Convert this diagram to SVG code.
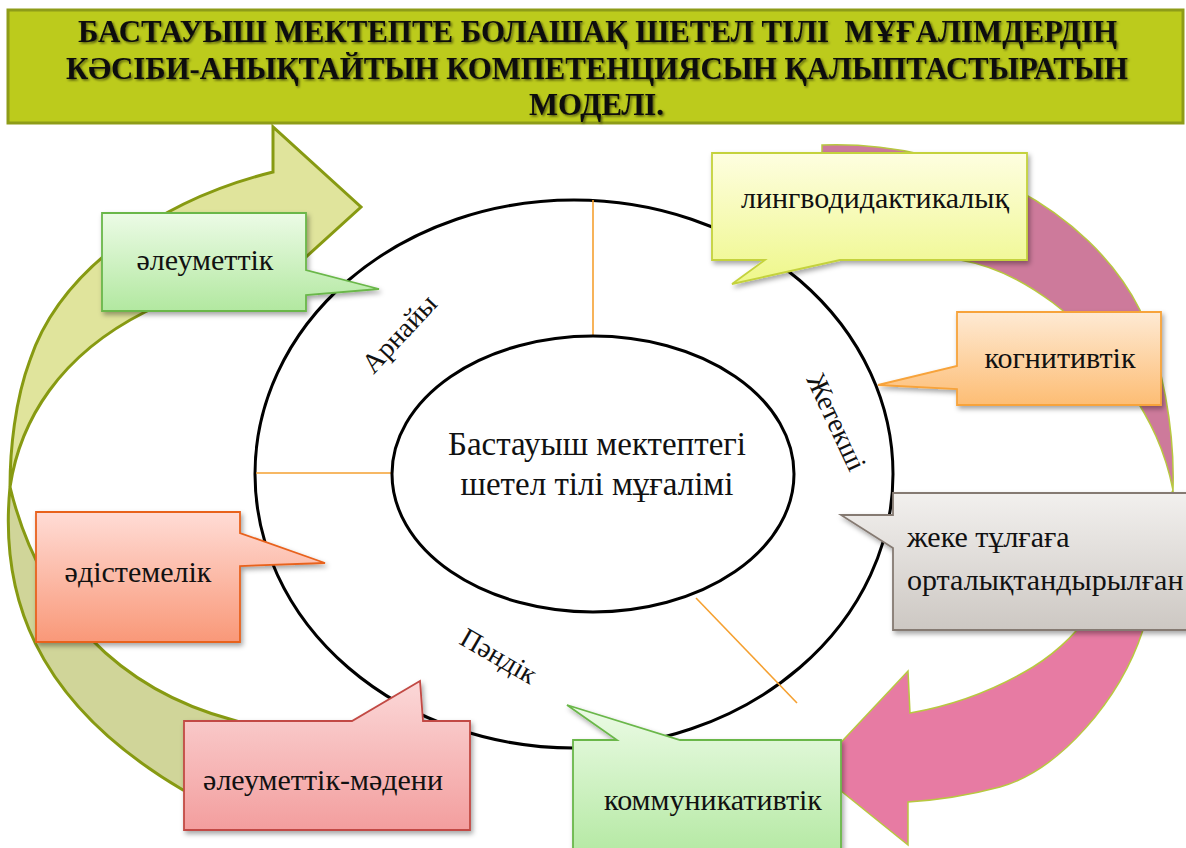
<svg xmlns="http://www.w3.org/2000/svg" width="1186" height="848" viewBox="0 0 1186 848">
<defs>
<style>
.lbl{font-size:30px;fill:#111;}
.ring{font-size:28px;fill:#111;}
.ctr{font-size:33px;fill:#111;}
.ttl{font-size:31px;font-weight:bold;fill:#111;}
.ell{fill:none;stroke:#000;stroke-width:3;}
.con{stroke:#f5a030;stroke-width:1.6;fill:none;}
.box{filter:url(#sh);stroke-width:1.8;}
</style>
<filter id="sh" x="-10%" y="-10%" width="130%" height="140%">
<feDropShadow dx="2" dy="3" stdDeviation="2.5" flood-color="#000" flood-opacity="0.35"/>
</filter>
<filter id="tsh" x="-5%" y="-20%" width="110%" height="150%">
<feDropShadow dx="1.5" dy="1.5" stdDeviation="0.9" flood-color="#000" flood-opacity="0.55"/>
</filter>
<linearGradient id="gGreen" x1="0" y1="0" x2="0" y2="1"><stop offset="0" stop-color="#ecfbe6"/><stop offset="1" stop-color="#b2e8a0"/></linearGradient>
<linearGradient id="gYellow" x1="0" y1="0" x2="0" y2="1"><stop offset="0" stop-color="#fefee0"/><stop offset="1" stop-color="#eef78a"/></linearGradient>
<linearGradient id="gOrange" x1="0" y1="0" x2="0" y2="1"><stop offset="0" stop-color="#feead4"/><stop offset="1" stop-color="#fdbd74"/></linearGradient>
<linearGradient id="gGray" x1="0" y1="0" x2="0" y2="1"><stop offset="0" stop-color="#f2f0ee"/><stop offset="1" stop-color="#cdc8c3"/></linearGradient>
<linearGradient id="gRed" x1="0" y1="0" x2="0" y2="1"><stop offset="0" stop-color="#ffdcd6"/><stop offset="1" stop-color="#f99878"/></linearGradient>
<linearGradient id="gPink" x1="0" y1="0" x2="0" y2="1"><stop offset="0" stop-color="#fbd8d8"/><stop offset="1" stop-color="#f39e9e"/></linearGradient>
</defs>

<g id="arrow-left">
<path d="M10,487 C0,590 30,700 183,790 L260,825 L300,740 L233,720 C120,690 40,610 10,487 Z" fill="#d0d599" stroke="#879a12" stroke-width="3"/>
<path d="M10,487 C10,450 15,400 30,360 C60,270 160,200 273,172 L273,127 L361,207 L273,287 L273,245 C230,260 190,290 145,312 C60,355 20,420 10,487 Z" fill="#e0e49c" stroke="#879a12" stroke-width="3"/>
</g>

<g id="arrow-right">
<path d="M822,145 C960,140 1090,210 1140,310 C1162,360 1175,430 1173,490 C1165,450 1150,420 1130,390 C1090,320 1020,270 960,260 C910,245 860,232 822,228 Z" fill="#cd7a9b" stroke="#b8c840" stroke-width="1.5"/>
<path d="M1173,490 C1176,540 1165,600 1143,630 C1120,700 1060,770 1000,787 C970,795 940,800 908,802 L908,845 L815,770 L908,671 L910,713 C950,706 990,693 1033,667 C1060,650 1080,630 1100,600 C1130,560 1160,520 1173,490 Z" fill="#e77ba3" stroke="#b8c840" stroke-width="1.5"/>
</g>

<g id="outer-ring">
<ellipse class="ell" cx="574" cy="474" rx="319" ry="274"/>
</g>

<g id="connectors">
<line class="con" x1="593" y1="200" x2="593" y2="336"/>
<line class="con" x1="256" y1="473" x2="392" y2="473"/>
<line class="con" x1="696" y1="598" x2="797" y2="703"/>
</g>

<g id="center">
<ellipse class="ell" cx="593" cy="474" rx="201" ry="138"/>
<text class="ctr" font-family="Liberation Serif" x="597" y="455" text-anchor="middle">Бастауыш мектептегі</text>
<text class="ctr" font-family="Liberation Serif" x="597" y="495" text-anchor="middle">шетел тілі мұғалімі</text>
</g>

<g id="ring-labels">
<text class="ring" font-family="Liberation Serif" text-anchor="middle" transform="translate(406,340) rotate(-47)">Арнайы</text>
<text class="ring" font-family="Liberation Serif" text-anchor="middle" transform="translate(828,426) rotate(65)">Жетекші</text>
<text class="ring" font-family="Liberation Serif" text-anchor="middle" transform="translate(494,664) rotate(30)">Пәндік</text>
</g>

<g id="n-aleumettik">
<path class="box" d="M102,213 H306 V270 L379,289 L306,295 V311 H102 Z" fill="url(#gGreen)" stroke="#6ab74a"/>
<text class="lbl" font-family="Liberation Serif" x="205" y="270" text-anchor="middle">әлеуметтік</text>
</g>

<g id="n-lingvo">
<path class="box" d="M712,153 H1027 V260 H840 L732,284 L765,260 H712 Z" fill="url(#gYellow)" stroke="#c4d23c"/>
<text class="lbl" font-family="Liberation Serif" x="875" y="208" text-anchor="middle">лингводидактикалық</text>
</g>

<g id="n-kognitiv">
<path class="box" d="M957,312 H1161 V405 H957 V389 L878,385 L957,366 Z" fill="url(#gOrange)" stroke="#f7a33a"/>
<text class="lbl" font-family="Liberation Serif" x="1060" y="368" text-anchor="middle">когнитивтік</text>
</g>

<g id="n-zheke">
<path class="box" d="M893,493 H1200 V630 H893 V548 L841,515 H893 Z" fill="url(#gGray)" stroke="#857a72"/>
<text class="lbl" font-family="Liberation Serif" x="907" y="547">жеке тұлғаға</text>
<text class="lbl" font-family="Liberation Serif" x="907" y="590">орталықтандырылған</text>
</g>

<g id="n-adistemelik">
<path class="box" d="M36,512 H240 V533 L325,563 L240,566 V642 H36 Z" fill="url(#gRed)" stroke="#e8621e"/>
<text class="lbl" font-family="Liberation Serif" x="138" y="582" text-anchor="middle">әдістемелік</text>
</g>

<g id="n-aleumettik-madeni">
<path class="box" d="M184,721 H352 L420,681 L423,721 H470 V830 H184 Z" fill="url(#gPink)" stroke="#c24a44"/>
<text class="lbl" font-family="Liberation Serif" x="323" y="790" text-anchor="middle">әлеуметтік-мәдени</text>
</g>

<g id="n-kommunikativ">
<path class="box" d="M573,740 H617 L567,705 L680,740 H841 V862 H573 Z" fill="url(#gGreen)" stroke="#6ab74a"/>
<text class="lbl" font-family="Liberation Serif" x="713" y="810" text-anchor="middle">коммуникативтік</text>
</g>

<g id="title">
<rect x="8" y="10" width="1175" height="113" fill="#bccb1c" stroke="#8e9c18" stroke-width="3"/>
<g filter="url(#tsh)">
<text class="ttl" font-family="Liberation Serif" x="78" y="42" textLength="1039" lengthAdjust="spacingAndGlyphs" xml:space="preserve">БАСТАУЫШ МЕКТЕПТЕ БОЛАШАҚ ШЕТЕЛ ТІЛІ  МҰҒАЛІМДЕРДІҢ</text>
<text class="ttl" font-family="Liberation Serif" x="66" y="79" textLength="1062" lengthAdjust="spacingAndGlyphs">КӘСІБИ-АНЫҚТАЙТЫН КОМПЕТЕНЦИЯСЫН ҚАЛЫПТАСТЫРАТЫН</text>
<text class="ttl" font-family="Liberation Serif" x="529" y="115" textLength="135" lengthAdjust="spacingAndGlyphs">МОДЕЛІ.</text>
</g>
</g>
</svg>
